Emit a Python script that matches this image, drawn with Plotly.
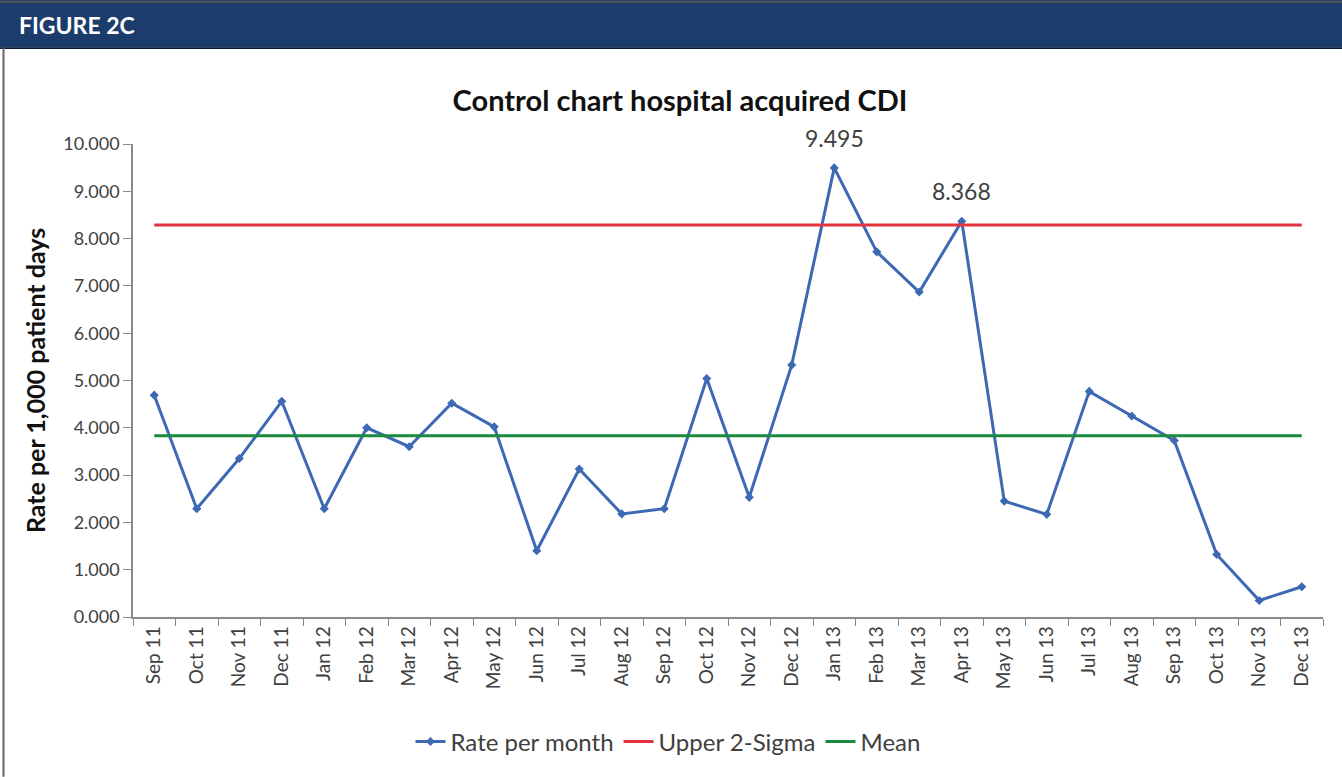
"""Control chart: hospital acquired CDI (Figure 2C)."""
import plotly.graph_objects as go

BLUE = "#3c68b4"
RED = "#e5323f"
GREEN = "#1a8a3c"
NAVY = "#1c3c6c"
AXIS = "#8a8a8a"
TXT = "#404040"
FONT = "Lato"

months = [
    "Sep 11", "Oct 11", "Nov 11", "Dec 11", "Jan 12", "Feb 12", "Mar 12",
    "Apr 12", "May 12", "Jun 12", "Jul 12", "Aug 12", "Sep 12", "Oct 12",
    "Nov 12", "Dec 12", "Jan 13", "Feb 13", "Mar 13", "Apr 13", "May 13",
    "Jun 13", "Jul 13", "Aug 13", "Sep 13", "Oct 13", "Nov 13", "Dec 13",
]
rate = [
    4.69, 2.29, 3.35, 4.56, 2.29, 4.00, 3.60,
    4.52, 4.02, 1.40, 3.13, 2.18, 2.29, 5.04,
    2.53, 5.33, 9.495, 7.72, 6.87, 8.368, 2.45,
    2.17, 4.77, 4.25, 3.73, 1.32, 0.35, 0.64,
]
labelled = ["Jan 13", "Apr 13"]
upper_2sigma = 8.29
mean = 3.83

# plot area in pixels (Excel layout)
W, H = 1342, 777
L, R, T, B = 133, 1323, 144, 621


def px(x):
    return (x - L) / (R - L)


def py(y):
    return (B - y) / (B - T)


fig = go.Figure()
fig.add_scatter(
    x=months, y=rate, name="Rate per month", mode="lines+markers",
    line=dict(color=BLUE, width=3), marker=dict(symbol="diamond", size=7, color=BLUE),
)
fig.add_scatter(
    x=months, y=[upper_2sigma] * len(months), name="Upper 2-Sigma", mode="lines",
    line=dict(color=RED, width=3),
)
fig.add_scatter(
    x=months, y=[mean] * len(months), name="Mean", mode="lines",
    line=dict(color=GREEN, width=3),
)

# data labels on the two out-of-control points
annotations = [
    dict(x=m, y=v, text=f"{v:.3f}", xref="x", yref="y", showarrow=False,
         yanchor="bottom", yshift=14, font=dict(size=23, color=TXT, family=FONT))
    for m, v in zip(months, rate) if m in labelled
]
annotations.append(
    dict(text="<b>FIGURE 2C</b>", xref="paper", yref="paper", x=px(17), y=py(24),
         xanchor="left", yanchor="middle", showarrow=False,
         font=dict(size=23, color="white", family=FONT))
)

shapes = [
    # header band
    dict(type="rect", xref="paper", yref="paper", x0=px(-5), x1=px(W + 5),
         y0=py(47), y1=py(-5), fillcolor=NAVY, line=dict(width=0), layer="below"),
    dict(type="line", xref="paper", yref="paper", x0=px(0), x1=px(W),
         y0=py(47.5), y1=py(47.5), line=dict(color="#0a1a30", width=1.5)),
    dict(type="line", xref="paper", yref="paper", x0=px(0), x1=px(W),
         y0=py(0.5), y1=py(0.5), line=dict(color="#555", width=2)),
    dict(type="line", xref="paper", yref="paper", x0=px(3.5), x1=px(3.5),
         y0=py(47), y1=py(H + 5), line=dict(color="#666", width=2)),
]

fig.update_layout(
    width=W, height=H,
    margin=dict(l=L, r=W - R, t=T, b=H - B),
    paper_bgcolor="white", plot_bgcolor="white",
    font=dict(family=FONT, color=TXT, size=17),
    title=dict(text="<b>Control chart hospital acquired CDI</b>", x=680 / W, xanchor="center",
               y=1 - 101 / H, yanchor="middle", yref="container",
               font=dict(size=29, color="#111", family=FONT)),
    xaxis=dict(type="category", range=[-0.5, 27.5], showline=True, linecolor=AXIS,
               linewidth=1.5, ticks="outside", tickson="boundaries", ticklen=7,
               tickcolor=AXIS, tickangle=-90, showgrid=False,
               tickfont=dict(size=19, color=TXT)),
    yaxis=dict(range=[0, 10], dtick=1, tickformat=".3f", showline=True, linecolor=AXIS,
               linewidth=1.5, ticks="outside", ticklen=8, tickcolor=AXIS, showgrid=False,
               zeroline=False, tickfont=dict(size=18, color=TXT),
               title=dict(text="<b>Rate per 1,000 patient days</b>", standoff=10,
                          font=dict(size=25, color="#111"))),
    legend=dict(orientation="h", x=px(668), xanchor="center", y=py(747), yanchor="middle",
                font=dict(size=24, color=TXT), itemwidth=30, traceorder="normal",
                bgcolor="rgba(0,0,0,0)"),
    shapes=shapes,
    annotations=annotations,
)

# drop the browser's default 8px body margin so the figure sits at the page corner
fig.write_html("out.html", config={"displayModeBar": False},
               post_script="document.body.style.margin='0';")
